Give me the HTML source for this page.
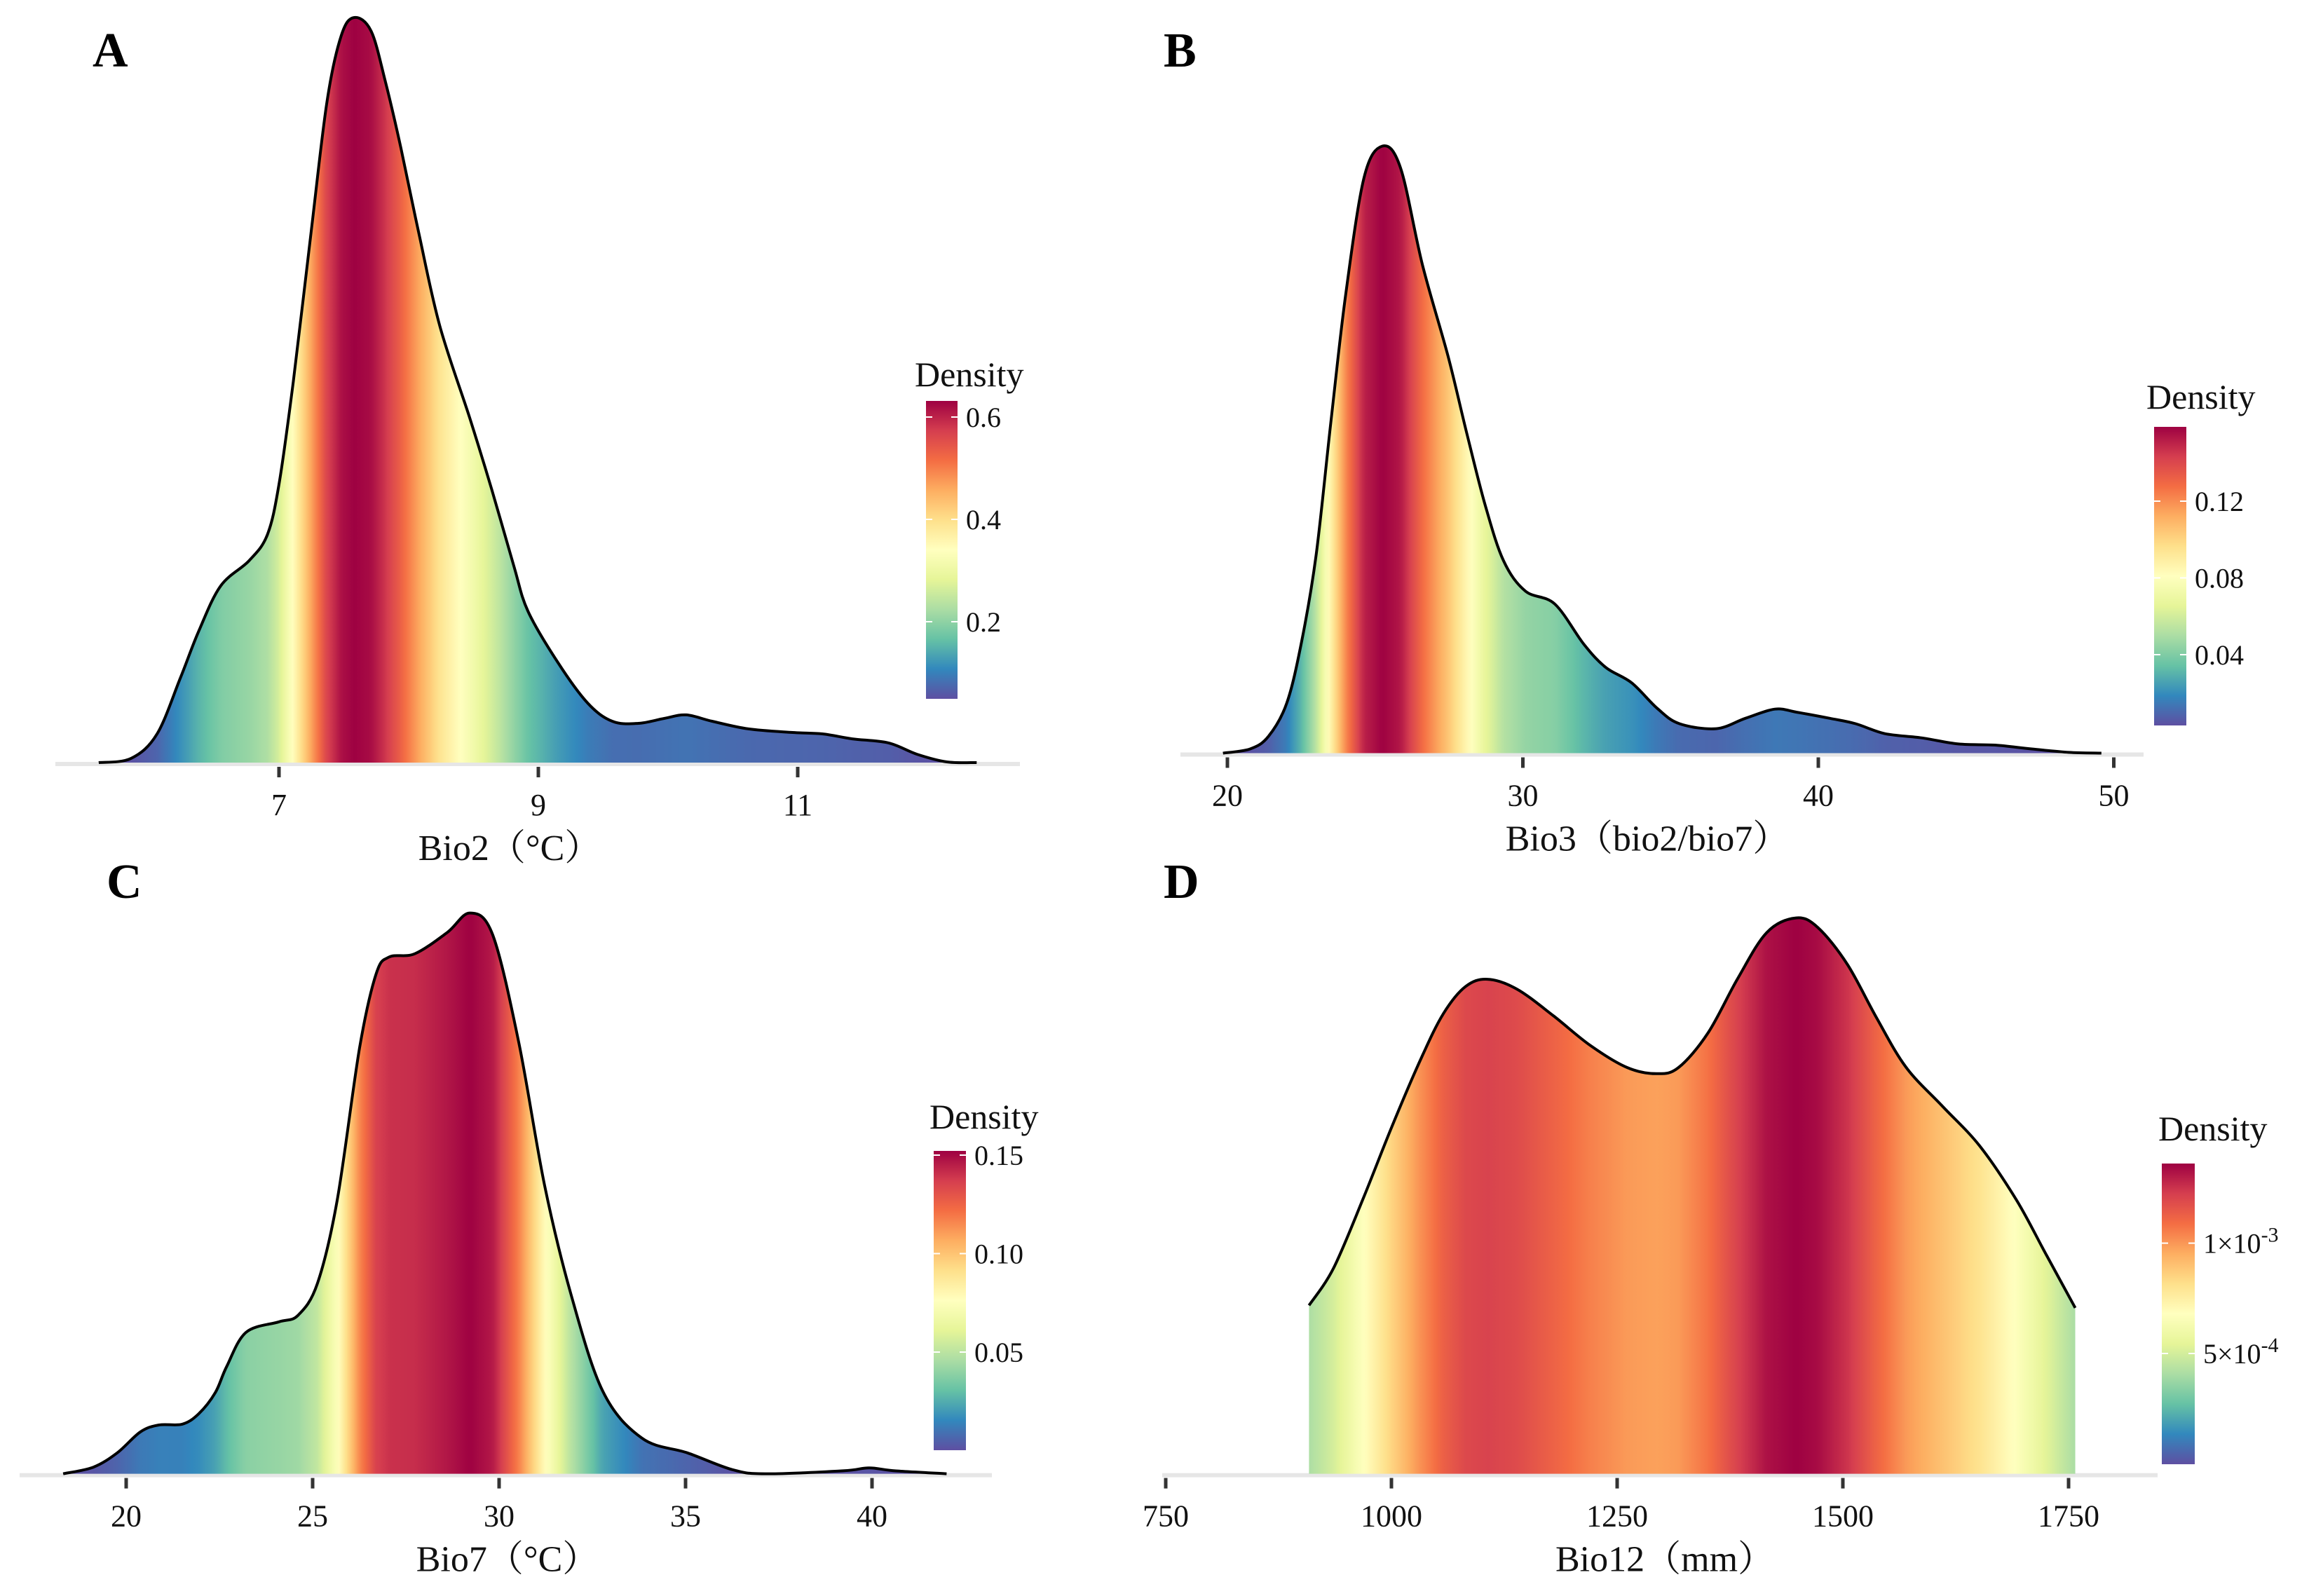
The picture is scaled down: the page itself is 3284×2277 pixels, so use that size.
<!DOCTYPE html>
<html><head><meta charset="utf-8"><style>
html,body{margin:0;padding:0;background:#fff;}
svg{display:block;font-family:"Liberation Serif","Noto Serif CJK SC",serif;}
</style></head><body>
<svg id="fig" xmlns="http://www.w3.org/2000/svg" width="3284" height="2277" viewBox="0 0 3284 2277">
<rect x="0" y="0" width="3284" height="2277" fill="#fff"/>
</svg>
<script>
// ---- Panel A data: Bio2 (°C) ----
const aX = [5.61,5.86,6.06,6.24,6.38,6.55,6.77,6.91,7.0,7.11,7.25,7.37,7.48,7.58,7.71,7.82,7.94,8.08,8.24,8.47,8.64,8.81,8.92,9.15,9.38,9.57,9.77,9.97,10.14,10.34,10.62,10.96,11.19,11.42,11.70,11.92,12.15,12.38];
const aD = [0,.0036,.0244,.072,.1113,.15,.1714,.1934,.2362,.3232,.4527,.5611,.6171,.6325,.621,.5783,.5218,.4486,.3707,.2928,.2321,.1672,.1285,.0851,.0506,.0351,.0333,.0375,.0405,.0351,.0286,.0256,.0244,.0202,.0167,.0071,.0006,0];
const aTicks = [7,9,11];
const aLegendTicks = [0.2,0.4,0.6];
const aLegendLabels = ["0.2","0.4","0.6"];
// ---- Panel B data: Bio3 ----
const bX = [19.85,20.77,21.39,22.01,22.51,23.0,23.5,24.0,24.62,25.24,25.86,26.6,27.47,28.1,28.72,29.34,30.08,31.08,32.07,32.81,33.68,34.55,35.3,36.54,37.53,38.53,39.27,40.39,41.26,42.25,43.49,44.74,45.98,47.22,48.47,49.58];
const bD = [0,.0011,.0044,.0131,.0291,.0517,.0864,.1197,.1503,.1587,.153,.1277,.1037,.0837,.065,.0504,.0424,.039,.0284,.0224,.0184,.0117,.0077,.0064,.0091,.0115,.0107,.0091,.0077,.0051,.004,.0024,.0021,.0011,.0002,0];
const bTicks = [20,30,40,50];
const bLegendTicks = [0.04,0.08,0.12];
const bLegendLabels = ["0.04","0.08","0.12"];
// ---- Panel C data: Bio7 (°C) ----
const cX = [18.31,19.12,19.76,20.38,20.88,21.5,21.94,22.39,22.69,23.21,24.1,24.61,25.13,25.66,26.26,26.7,27.05,27.74,28.61,29.22,29.83,30.53,31.22,31.92,32.78,33.83,35.05,36.26,37.13,39.22,39.92,40.61,42.0];
const cD = [0,.0018,.0057,.0114,.0133,.0135,.0163,.0221,.0291,.0385,.0414,.0432,.0519,.0746,.1161,.1361,.1408,.1417,.1475,.1528,.1468,.1174,.0786,.0492,.0225,.0097,.0057,.0011,0,.0008,.0016,.0008,0];
const cTicks = [20,25,30,35,40];
const cLegendTicks = [0.05,0.10,0.15];
const cLegendLabels = ["0.05","0.10","0.15"];
// ---- Panel D data: Bio12 (mm) ----
const dX = [908.7,935.6,968.1,1000.6,1033.2,1057.6,1082,1106.4,1138.9,1179.7,1220.3,1261,1293.6,1318,1350.5,1383.1,1415.6,1448.1,1472.6,1505.1,1537.7,1570.2,1610.9,1651.6,1692.2,1724.8,1757.4];
const dD = [4.12e-4,5.02e-4,6.70e-4,8.50e-4,1.018e-3,1.126e-3,1.192e-3,1.210e-3,1.186e-3,1.120e-3,1.048e-3,9.94e-4,9.79e-4,9.94e-4,1.078e-3,1.210e-3,1.324e-3,1.36e-3,1.336e-3,1.246e-3,1.114e-3,9.94e-4,8.98e-4,8.02e-4,6.70e-4,5.38e-4,4.06e-4];
const dTicks = [750,1000,1250,1500,1750];
const dLegendTicks = [5e-4,1e-3];
const dLegendLabels = [["5×10","-4"],["1×10","-3"]];

const NS = "http://www.w3.org/2000/svg";
const svg = document.getElementById("fig");
const PAL = ["#5E4FA2","#3288BD","#66C2A5","#ABDDA4","#E6F598","#FFFFBF","#FEE08B","#FDAE61","#F46D43","#D53E4F","#9E0142"];
function hex(h){return [parseInt(h.substr(1,2),16),parseInt(h.substr(3,2),16),parseInt(h.substr(5,2),16)];}
function spectral(t){
  t=Math.max(0,Math.min(1,t));
  const p=t*(PAL.length-1), i=Math.min(Math.floor(p),PAL.length-2), f=p-i;
  const a=hex(PAL[i]), b=hex(PAL[i+1]);
  return "rgb("+a.map((v,k)=>Math.round(v+(b[k]-v)*f)).join(",")+")";
}
function mk(tag, attrs, parent){
  const e=document.createElementNS(NS,tag);
  for(const k in attrs) e.setAttribute(k,attrs[k]);
  (parent||svg).appendChild(e);
  return e;
}
function smoothPath(pts){
  let d="M"+pts[0][0]+","+pts[0][1];
  for(let i=0;i<pts.length-1;i++){
    const p0=pts[Math.max(0,i-1)], p1=pts[i], p2=pts[i+1], p3=pts[Math.min(pts.length-1,i+2)];
    const c1=[p1[0]+(p2[0]-p0[0])/6, p1[1]+(p2[1]-p0[1])/6];
    const c2=[p2[0]-(p3[0]-p1[0])/6, p2[1]-(p3[1]-p1[1])/6];
    d+=" C"+c1[0].toFixed(1)+","+c1[1].toFixed(1)+" "+c2[0].toFixed(1)+","+c2[1].toFixed(1)+" "+p2[0].toFixed(1)+","+p2[1].toFixed(1);
  }
  return d;
}
function interp(xs,ds,v){
  if(v<=xs[0])return ds[0];
  for(let i=0;i<xs.length-1;i++){ if(v<=xs[i+1]){const f=(v-xs[i])/(xs[i+1]-xs[i]);return ds[i]+(ds[i+1]-ds[i])*f;} }
  return ds[ds.length-1];
}

function panel(cfg){
  const g=mk("g",{});
  
  
  const sx=v=>cfg.x0+(v-cfg.v0)*cfg.pxu;
  const dmax=Math.max(...cfg.ds);
  const sy=d=>cfg.base-d/dmax*cfg.peakPx;
  // axis line
  const ax=mk("line",{x1:cfg.axL,x2:cfg.axR,y1:cfg.base+2,y2:cfg.base+2,stroke:"#e6e6e6","stroke-width":6},g);
  
  
  // gradient
  const defs=mk("defs",{},g);
  const gid=cfg.id+"-grad";
  const xa=sx(cfg.xs[0]), xb=sx(cfg.xs[cfg.xs.length-1]);
  const lg=mk("linearGradient",{id:gid,gradientUnits:"userSpaceOnUse",x1:xa,x2:xb,y1:0,y2:0},defs);
  const N=240;
  for(let i=0;i<=N;i++){
    const v=cfg.xs[0]+(cfg.xs[cfg.xs.length-1]-cfg.xs[0])*i/N;
    mk("stop",{offset:(i/N).toFixed(4),"stop-color":spectral(interp(cfg.xs,cfg.ds,v)/dmax)},lg);
  }
  const pts=cfg.xs.map((v,i)=>[sx(v),sy(cfg.ds[i])]);
  const top=smoothPath(pts);
  const area=mk("path",{d:top+" L"+xb+","+cfg.base+" L"+xa+","+cfg.base+" Z",fill:"url(#"+gid+")"},g);
  
  
  const line=mk("path",{d:top,fill:"none",stroke:"#000","stroke-width":4,"stroke-linejoin":"round"},g);
  
  
  // ticks
  cfg.ticks.forEach(t=>{
    const tk=mk("line",{x1:sx(t),x2:sx(t),y1:cfg.base+6,y2:cfg.base+21,stroke:"#333","stroke-width":5},g);
    
    
    const tl=mk("text",{x:sx(t),y:cfg.base+75,"text-anchor":"middle","font-size":44,fill:"#111"},g);
    tl.textContent=String(t);
    
    
  });
  // axis title
  const at=mk("text",{x:cfg.titleX,y:cfg.base+139,"text-anchor":"middle","font-size":52,fill:"#111"},g);
  at.textContent=cfg.title;
  
  
  // panel letter
  const pl=mk("text",{x:cfg.letterX,y:cfg.letterY,"font-size":70,"font-weight":"bold",fill:"#000"},g);
  pl.textContent=cfg.letter;
  
  
  // legend
  const lgG=mk("g",{},g);
  
  
  const lt=mk("text",{x:cfg.legTitleX,y:cfg.legTitleY,"font-size":50,fill:"#111"},lgG);
  lt.textContent="Density";
  
  
  const bid=cfg.id+"-bar-grad";
  const bg=mk("linearGradient",{id:bid,x1:0,x2:0,y1:1,y2:0},defs);
  PAL.forEach((c,i)=>mk("stop",{offset:(i/(PAL.length-1)).toFixed(3),"stop-color":c},bg));
  const bar=mk("rect",{x:cfg.barX,y:cfg.barTop,width:cfg.barW,height:cfg.barBot-cfg.barTop,fill:"url(#"+bid+")"},lgG);
  
  
  const ly=v=>cfg.lA[1]+(v-cfg.lA[0])/(cfg.lB[0]-cfg.lA[0])*(cfg.lB[1]-cfg.lA[1]);
  cfg.lticks.forEach((v,i)=>{
    const y=ly(v);
    mk("line",{x1:cfg.barX,x2:cfg.barX+9,y1:y,y2:y,stroke:"#fff","stroke-width":2},lgG);
    mk("line",{x1:cfg.barX+cfg.barW-9,x2:cfg.barX+cfg.barW,y1:y,y2:y,stroke:"#fff","stroke-width":2},lgG);
    const tx=mk("text",{x:cfg.barX+cfg.barW+12,y:y+14,"font-size":40,fill:"#111"},lgG);
    const lab=cfg.llabels[i];
    if(Array.isArray(lab)){
      tx.textContent=lab[0];
      const sp=mk("tspan",{dy:-16,"font-size":30},tx);
      sp.textContent=lab[1];
    } else tx.textContent=lab;
    
    
  });
}

panel({id:"a",xs:aX,ds:aD,ticks:aTicks,lticks:aLegendTicks,llabels:aLegendLabels,
  x0:398,v0:7,pxu:185,base:1088,peakPx:1063,axL:79,axR:1455,
  title:"Bio2（°C）",titleX:727,letter:"A",letterX:132,letterY:95,
  legTitleX:1305,legTitleY:551,barX:1321,barW:45,barTop:572,barBot:997,lA:[0.2,887],lB:[0.6,595]});
panel({id:"b",xs:bX,ds:bD,ticks:bTicks,lticks:bLegendTicks,llabels:bLegendLabels,
  x0:1751,v0:20,pxu:42.15,base:1074.5,peakPx:866,axL:1684,axR:3058,
  title:"Bio3（bio2/bio7）",titleX:2350,letter:"B",letterX:1660,letterY:95,
  legTitleX:3062,legTitleY:583,barX:3073,barW:46,barTop:609,barBot:1035,lA:[0.04,934],lB:[0.12,715]});
panel({id:"c",xs:cX,ds:cD,ticks:cTicks,lticks:cLegendTicks,llabels:cLegendLabels,
  x0:180,v0:20,pxu:53.2,base:2102.6,peakPx:800,axL:28,axR:1415,
  title:"Bio7（°C）",titleX:724,letter:"C",letterX:152,letterY:1281,
  legTitleX:1326,legTitleY:1610,barX:1332,barW:46,barTop:1642,barBot:2069,lA:[0.05,1929],lB:[0.15,1648]});
panel({id:"d",xs:dX,ds:dD,ticks:dTicks,lticks:dLegendTicks,llabels:dLegendLabels,
  x0:1663,v0:750,pxu:1.288,base:2102.6,peakPx:793,axL:1658,axR:3078,
  title:"Bio12（mm）",titleX:2375,letter:"D",letterX:1660,letterY:1281,
  legTitleX:3079,legTitleY:1627,barX:3084,barW:47,barTop:1660,barBot:2089,lA:[5e-4,1931],lB:[1e-3,1773.6]});
</script>
</body></html>
